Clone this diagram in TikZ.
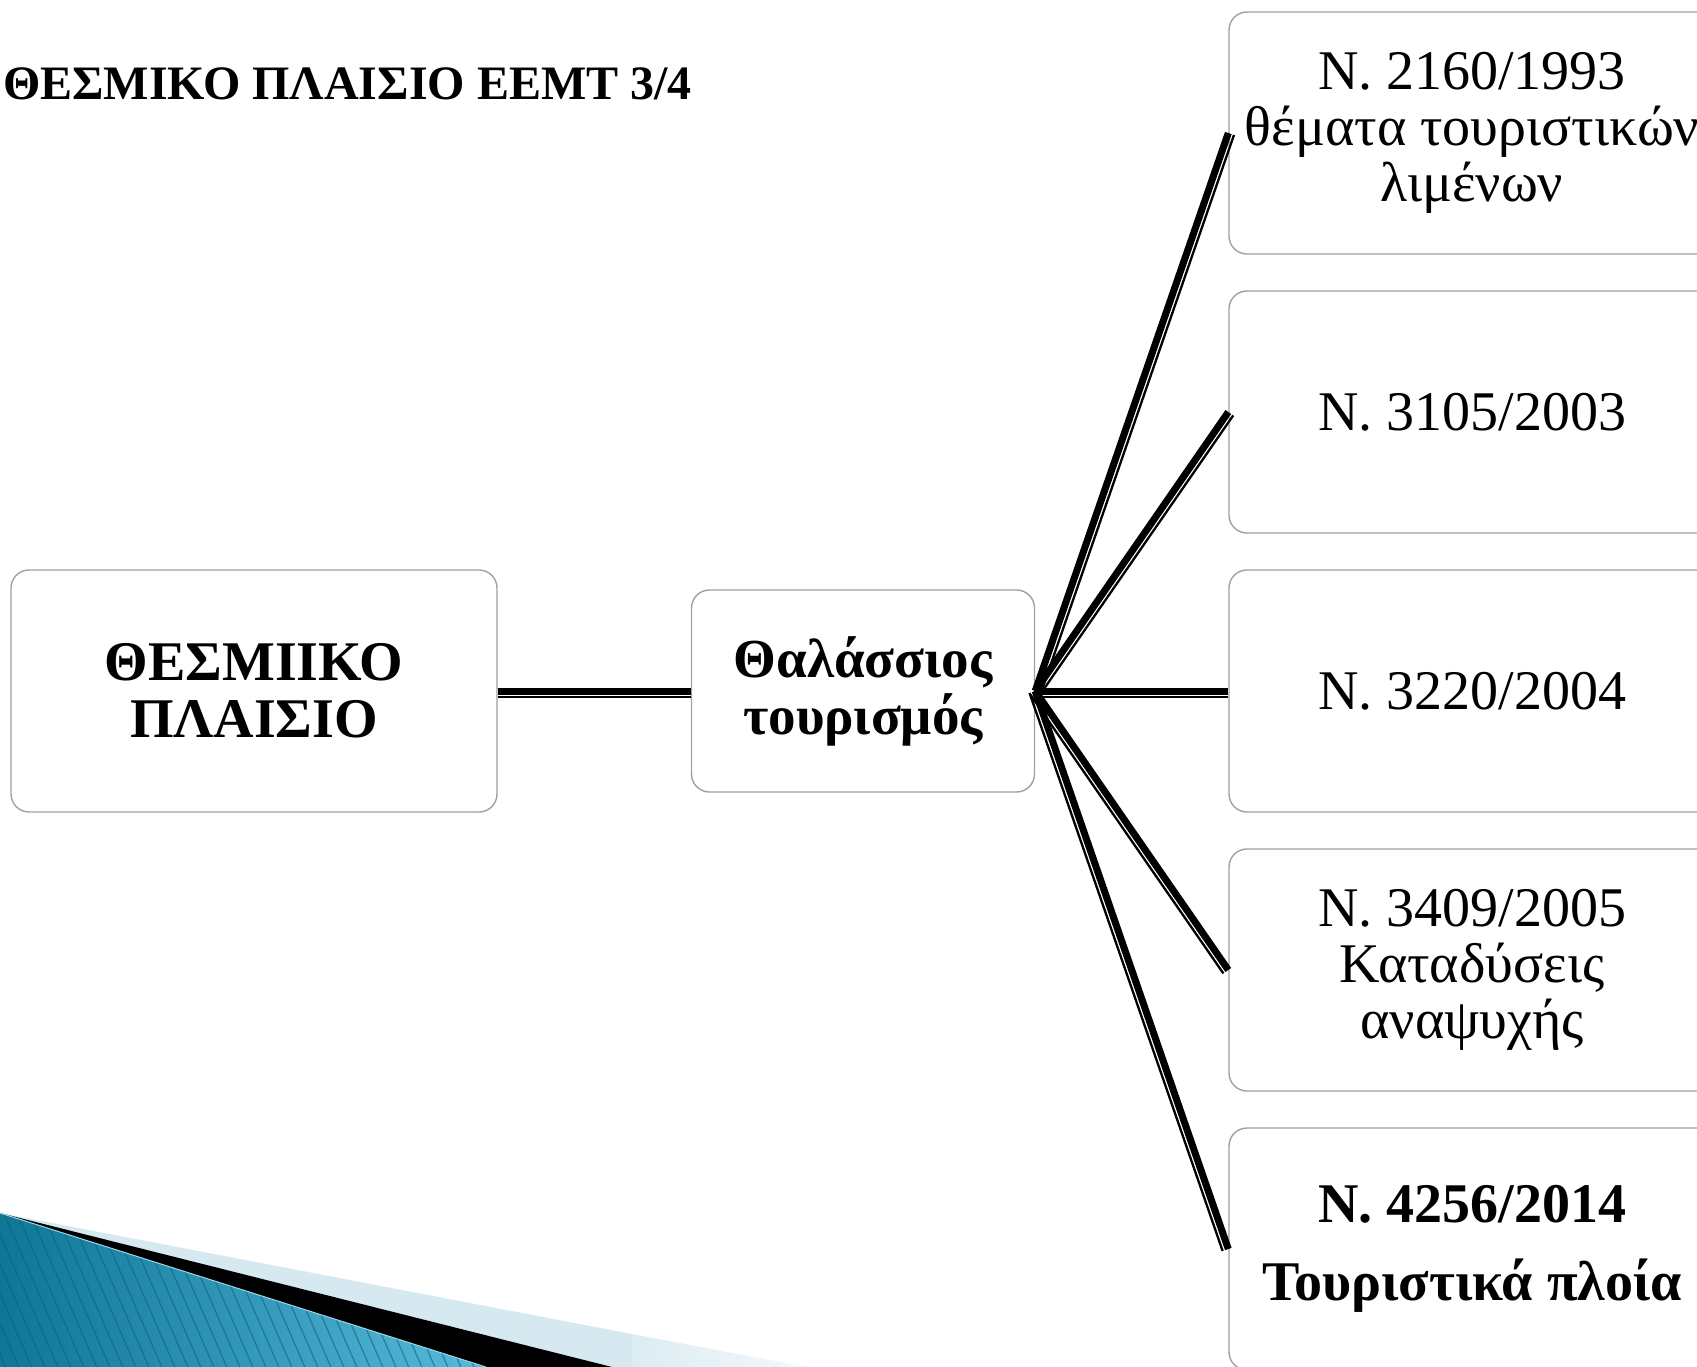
\documentclass[tikz,border=0pt]{standalone}
\usepackage{fontspec}
\setmainfont{Liberation Serif}
\usetikzlibrary{calc}
\definecolor{bordgris}{HTML}{A0A0A0}
\definecolor{bleufonce}{HTML}{0E7697}
\definecolor{bleuclair}{HTML}{56BADB}
\definecolor{bleuraie}{HTML}{155E78}
\definecolor{bleupale}{HTML}{D6E9F1}
\begin{document}
\begin{tikzpicture}[x=1pt,y=-1pt]
\tikzset{boite/.style={draw=bordgris, line width=1.4pt, fill=white, rounded corners=18pt, minimum width=486pt, minimum height=242pt, align=center, inner sep=0pt, font=\fontsize{56}{56}\selectfont}}
\tikzset{boitegras/.style={boite, font=\fontsize{56}{57}\selectfont\bfseries}}
\tikzset{trait/.style={line width=7pt}}
\tikzset{filet/.style={line width=2.3pt}}
\useasboundingbox (0,0) rectangle (1697,1367);
\clip (0,0) rectangle (1697,1367);
\fill[bleupale] (0,1213) -- (632,1334) -- (632,1367) -- (0,1367) -- cycle;
\shade[left color=bleupale!85, right color=bleupale!30] (632,1334) -- (807,1367) -- (632,1367) -- cycle;
\fill[black] (0,1213) -- (612,1367) -- (486,1367) -- cycle;
\shade[left color=bleufonce, right color=bleuclair] (0,1213) -- (486,1367) -- (0,1367) -- cycle;
\begin{scope}
\clip (0,1213) -- (486,1367) -- (0,1367) -- cycle;
\foreach \i in {-80,-67,...,490}
  \draw[bleuraie, line width=1.2pt, opacity=.6] (\i,1200) -- ++(75,172);
\end{scope}
\draw[bleuclair!60, line width=1pt] (0,1213) -- (486,1367);
\node[anchor=base west, inner sep=0pt, font=\fontsize{48}{48}\selectfont\bfseries] (titre) at (3,100) {ΘΕΣΜΙΚΟ ΠΛΑΙΣΙΟ ΕΕΜΤ 3/4};
\node[boitegras] (P) at (254,691) {ΘΕΣΜΙΙΚΟ\\ΠΛΑΙΣΙΟ};
\node[boitegras, minimum width=343pt, minimum height=202pt, font=\fontsize{55}{57}\selectfont\bfseries] (T) at (863,691) {Θαλάσσιος\\τουρισμός};
\node[boite] (N1) at (1472,133) {Ν. 2160/1993\\θέματα τουριστικών\\λιμένων};
\node[boite] (N2) at (1472,412) {Ν. 3105/2003};
\node[boite] (N3) at (1472,691) {Ν. 3220/2004};
\node[boite] (N4) at (1472,970) {Ν. 3409/2005\\Καταδύσεις\\αναψυχής};
\node[boitegras] (N5) at (1472,1249) {Ν. 4256/2014\\[21pt]Τουριστικά πλοία};
\draw[trait] (P.east) -- (T.west);
\draw[filet] ($(P.east)!6pt!270:(T.west)$) -- ($(T.west)!6pt!90:(P.east)$);
\draw[trait] (T.east) -- (N1.west);
\draw[filet] ($(T.east)!6pt!270:(N1.west)$) -- ($(N1.west)!6pt!90:(T.east)$);
\draw[trait] (T.east) -- (N2.west);
\draw[filet] ($(T.east)!6pt!270:(N2.west)$) -- ($(N2.west)!6pt!90:(T.east)$);
\draw[trait] (T.east) -- (N3.west);
\draw[filet] ($(T.east)!6pt!270:(N3.west)$) -- ($(N3.west)!6pt!90:(T.east)$);
\draw[trait] (T.east) -- (N4.west);
\draw[filet] ($(T.east)!6pt!270:(N4.west)$) -- ($(N4.west)!6pt!90:(T.east)$);
\draw[trait] (T.east) -- (N5.west);
\draw[filet] ($(T.east)!6pt!270:(N5.west)$) -- ($(N5.west)!6pt!90:(T.east)$);
\end{tikzpicture}
\end{document}
